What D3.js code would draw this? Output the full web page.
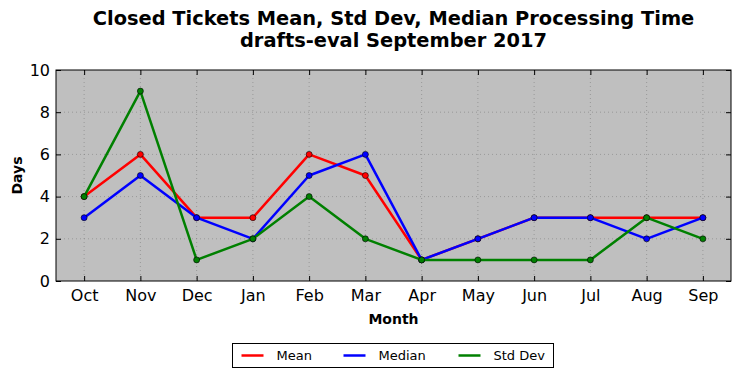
<!DOCTYPE html>
<html lang="en">
<head>
<meta charset="UTF-8">
<title>Closed Tickets</title>
<style>
    body { margin: 0; background: #fff; font-family: "DejaVu Sans", sans-serif; }
    svg { display: block; }
</style>
</head>
<body>
<div id="chart"></div>
<script src="https://d3js.org/d3.v7.min.js"></script>
<script>
    const months = ['Oct', 'Nov', 'Dec', 'Jan', 'Feb', 'Mar', 'Apr', 'May', 'Jun', 'Jul', 'Aug', 'Sep'];
    const meanVals = [4, 6, 3, 3, 6, 5, 1, 2, 3, 3, 3, 3];
    const medianVals = [3, 5, 3, 2, 5, 6, 1, 2, 3, 3, 2, 3];
    const stdVals = [4, 9, 1, 2, 4, 2, 1, 1, 1, 1, 3, 2];
    const yTicks = [0, 2, 4, 6, 8, 10];

    const series = [
        { name: 'Mean', color: '#ff0000', values: meanVals },
        { name: 'Median', color: '#0000ff', values: medianVals },
        { name: 'Std Dev', color: '#008000', values: stdVals }
    ];

    const width = 740, height = 378;
    const margin = { top: 70, right: 9, bottom: 97, left: 56 };
    const w = width - margin.left - margin.right;
    const h = height - margin.top - margin.bottom;

    const svg = d3.select('#chart').append('svg')
        .attr('width', width)
        .attr('height', height);

    // title
    const title = svg.append('text')
        .attr('x', margin.left + w / 2)
        .attr('text-anchor', 'middle')
        .style('font-size', '19.4px')
        .style('font-weight', 'bold');
    title.append('tspan').attr('x', margin.left + w / 2).attr('y', 25)
        .text('Closed Tickets Mean, Std Dev, Median Processing Time');
    title.append('tspan').attr('x', margin.left + w / 2).attr('y', 47)
        .text('drafts-eval September 2017');

    const g = svg.append('g')
        .attr('transform', `translate(${margin.left},${margin.top})`);

    const x = d3.scalePoint().domain(months).range([0, w]).padding(0.5);
    const y = d3.scaleLinear().domain([0, 10]).range([h, 0]);

    g.append('rect')
        .attr('width', w).attr('height', h)
        .attr('fill', '#bfbfbf');

    // grid
    g.append('g').selectAll('line').data(months).join('line')
        .attr('x1', d => x(d)).attr('x2', d => x(d))
        .attr('y1', 0).attr('y2', h)
        .attr('stroke', '#7f7f7f').attr('stroke-width', 0.6)
        .attr('stroke-dasharray', '1,3');
    g.append('g').selectAll('line').data(yTicks.slice(1, -1)).join('line')
        .attr('x1', 0).attr('x2', w)
        .attr('y1', d => y(d)).attr('y2', d => y(d))
        .attr('stroke', '#7f7f7f').attr('stroke-width', 0.6)
        .attr('stroke-dasharray', '1,3');

    // axes with inward ticks
    const xAxis = g.append('g').attr('transform', `translate(0,${h})`)
        .call(d3.axisBottom(x).tickSizeInner(-5).tickSizeOuter(0).tickPadding(9));
    const xAxisTop = g.append('g')
        .call(d3.axisTop(x).tickSizeInner(-5).tickSizeOuter(0).tickFormat(''));
    const yAxis = g.append('g')
        .call(d3.axisLeft(y).tickValues(yTicks).tickSizeInner(-5).tickSizeOuter(0).tickPadding(6));
    const yAxisRight = g.append('g').attr('transform', `translate(${w},0)`)
        .call(d3.axisRight(y).tickValues(yTicks).tickSizeInner(-5).tickSizeOuter(0).tickFormat(''));

    [xAxis, xAxisTop, yAxis, yAxisRight].forEach(a => {
        a.select('.domain').remove();
        a.selectAll('text').style('font-size', '16px').style('font-family', '"DejaVu Sans", sans-serif').attr('fill', '#000');
        a.selectAll('line').attr('stroke', '#000');
    });

    const line = d3.line()
        .x((d, i) => x(months[i]))
        .y(d => y(d));

    series.forEach(s => {
        g.append('path')
            .datum(s.values)
            .attr('d', line)
            .attr('fill', 'none')
            .attr('stroke', s.color)
            .attr('stroke-width', 2.5)
            .attr('stroke-linejoin', 'round');
        g.append('g').selectAll('circle').data(s.values).join('circle')
            .attr('cx', (d, i) => x(months[i]))
            .attr('cy', d => y(d))
            .attr('r', 3)
            .attr('fill', s.color)
            .attr('stroke', '#000')
            .attr('stroke-width', 0.6);
    });

    // frame
    g.append('rect')
        .attr('width', w).attr('height', h)
        .attr('fill', 'none')
        .attr('stroke', '#000').attr('stroke-width', 1);

    // axis labels
    svg.append('text')
        .attr('x', margin.left + w / 2).attr('y', 323.5)
        .attr('text-anchor', 'middle')
        .style('font-size', '14px').style('font-weight', 'bold')
        .text('Month');
    svg.append('text')
        .attr('transform', `translate(21.5,${margin.top + h / 2}) rotate(-90)`)
        .attr('text-anchor', 'middle')
        .style('font-size', '14px').style('font-weight', 'bold')
        .text('Days');

    // legend
    const legend = svg.append('g').attr('transform', 'translate(232.5,343.5)');
    legend.append('rect')
        .attr('width', 321).attr('height', 24)
        .attr('fill', '#fff').attr('stroke', '#000').attr('stroke-width', 1);
    const legendX = [9, 111, 226];
    series.forEach((s, i) => {
        legend.append('line')
            .attr('x1', legendX[i]).attr('x2', legendX[i] + 22)
            .attr('y1', 12).attr('y2', 12)
            .attr('stroke', s.color).attr('stroke-width', 2.5);
        legend.append('text')
            .attr('x', legendX[i] + 35).attr('y', 16.5)
            .style('font-size', '13px')
            .text(s.name);
    });
</script>
</body>
</html>
